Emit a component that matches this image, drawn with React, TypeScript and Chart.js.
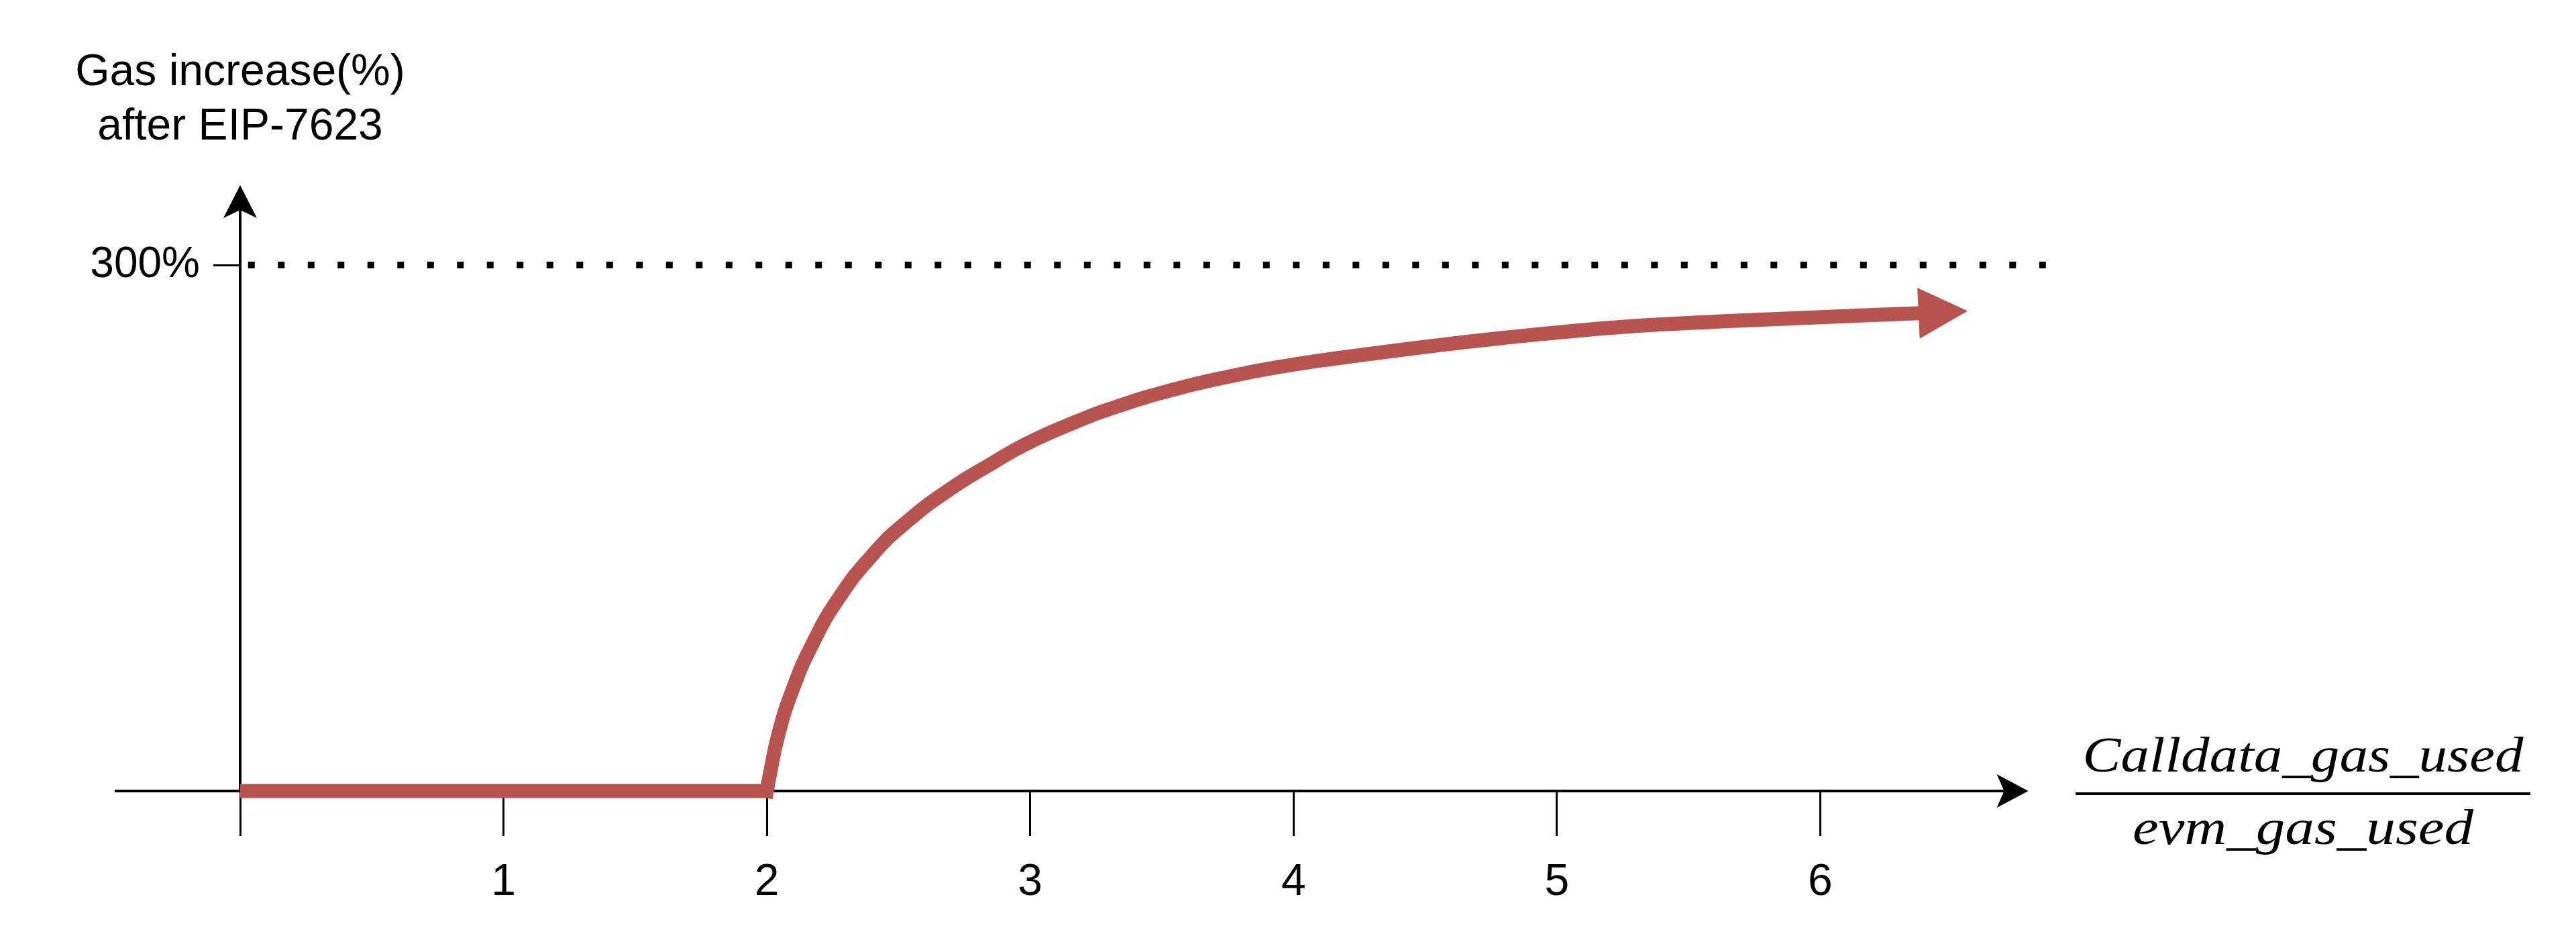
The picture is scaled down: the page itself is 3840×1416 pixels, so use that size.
import React, { useEffect, useRef } from 'react';
import { Chart, registerables } from 'chart.js';

Chart.register(...registerables);

// ---- data ----
const X_TICKS = [0, 1, 2, 3, 4, 5, 6];
const X_TICK_LABELS = ['', '1', '2', '3', '4', '5', '6'];
const Y_TICKS = [300];
const Y_TICK_LABELS = ['300%'];

const FLAT_X = [0, 2];
const FLAT_Y = [0, 0];

const CURVE_X = [2, 2.0086, 2.0447, 2.099, 2.173, 2.27, 2.402, 2.535, 2.705, 2.845, 2.985, 3.164, 3.334, 3.546, 3.758, 3.971, 4.174, 4.565, 4.82, 5.074, 5.321, 5.7, 6.032, 6.373];
const CURVE_Y = [0, 7.3, 32.8, 58.3, 83.8, 109.3, 134.8, 154, 173.1, 186, 198, 210, 219.5, 229, 236.5, 242.5, 247, 254.5, 258.8, 262.5, 265.5, 268.3, 270.4, 272.5];

const ARROW_TIP_X = 6.56;
const ARROW_TIP_Y = 273.8;

const REF_LINE_X = [0.03, 6.92];
const REF_LINE_Y = [300, 300];

const X_MIN = 0;
const X_MAX = 7;
const Y_MIN = 0;
const Y_MAX = 300;
const X_AXIS_EXTENT = [-0.476, 6.79];
const Y_AXIS_TOP = 345.5;

const Y_TITLE = ['Gas increase(%)', 'after EIP-7623'];
const X_TITLE_NUM = 'Calldata_gas_used';
const X_TITLE_DEN = 'evm_gas_used';

const RED = '#b85450';
const SANS = '"Liberation Sans", Arial, Helvetica, sans-serif';
const SERIF = '"Liberation Serif", "Times New Roman", serif';

const overlay = {
  id: 'overlay',
  beforeDatasetsDraw(chart: any) {
    const { ctx, scales } = chart;
    const x = scales.x;
    const y = scales.y;
    const y0 = y.getPixelForValue(0);
    const x0 = x.getPixelForValue(0);
    ctx.save();
    ctx.strokeStyle = '#000';
    ctx.fillStyle = '#000';
    ctx.lineCap = 'butt';
    // x axis
    const xl = x.getPixelForValue(X_AXIS_EXTENT[0]);
    const xr = x.getPixelForValue(X_AXIS_EXTENT[1]);
    ctx.lineWidth = 4;
    ctx.beginPath();
    ctx.moveTo(xl, y0);
    ctx.lineTo(xr - 30, y0);
    ctx.stroke();
    ctx.beginPath();
    ctx.moveTo(xr, y0);
    ctx.lineTo(xr - 47, y0 - 25);
    ctx.lineTo(xr - 36, y0);
    ctx.lineTo(xr - 47, y0 + 25);
    ctx.closePath();
    ctx.fill();
    // y axis
    const yt = y.getPixelForValue(Y_AXIS_TOP);
    ctx.lineWidth = 4;
    ctx.beginPath();
    ctx.moveTo(x0, y0);
    ctx.lineTo(x0, yt + 30);
    ctx.stroke();
    ctx.beginPath();
    ctx.moveTo(x0, yt);
    ctx.lineTo(x0 - 25, yt + 49);
    ctx.lineTo(x0, yt + 37);
    ctx.lineTo(x0 + 25, yt + 49);
    ctx.closePath();
    ctx.fill();
    ctx.restore();
  },
  afterDatasetsDraw(chart: any) {
    const { ctx, scales } = chart;
    const x = scales.x;
    const y = scales.y;
    const n = CURVE_X.length - 1;
    const bx = x.getPixelForValue(CURVE_X[n]);
    const by = y.getPixelForValue(CURVE_Y[n]);
    const tx = x.getPixelForValue(ARROW_TIP_X);
    const ty = y.getPixelForValue(ARROW_TIP_Y);
    const dx = tx - bx;
    const dy = ty - by;
    const len = Math.hypot(dx, dy);
    const px = -dy / len;
    const py = dx / len;
    const hw = 38;
    ctx.save();
    ctx.fillStyle = RED;
    ctx.beginPath();
    ctx.moveTo(tx, ty);
    ctx.lineTo(bx + px * hw, by + py * hw);
    ctx.lineTo(bx - px * hw, by - py * hw);
    ctx.closePath();
    ctx.fill();
    ctx.restore();
  },
  afterDraw(chart: any) {
    const { ctx, scales } = chart;
    const x = scales.x;
    const y = scales.y;
    const y0 = y.getPixelForValue(0);
    const x0 = x.getPixelForValue(0);
    const yt = y.getPixelForValue(Y_AXIS_TOP);
    ctx.save();
    ctx.fillStyle = '#000';
    ctx.textAlign = 'center';
    ctx.textBaseline = 'alphabetic';
    ctx.font = `66px ${SANS}`;
    ctx.fillText(Y_TITLE[0], x0, yt - 149);
    ctx.fillText(Y_TITLE[1], x0, yt - 68);

    // fraction label for x axis
    const cx = 3433;
    ctx.font = `italic 74px ${SERIF}`;
    const drawFit = (t: string, w: number, base: number) => {
      const m = ctx.measureText(t).width;
      ctx.save();
      ctx.translate(cx, base);
      ctx.scale(w / m, 1);
      ctx.fillText(t, 0, 0);
      ctx.restore();
    };
    drawFit(X_TITLE_NUM, 657, y0 - 29);
    drawFit(X_TITLE_DEN, 508, y0 + 79);
    ctx.strokeStyle = '#000';
    ctx.lineWidth = 4;
    ctx.beginPath();
    ctx.moveTo(cx - 339, y0 + 4);
    ctx.lineTo(cx + 339, y0 + 4);
    ctx.stroke();
    ctx.restore();
  },
};

export default function App() {
  const ref = useRef<HTMLCanvasElement>(null);
  useEffect(() => {
    document.body.style.margin = '0';
    const canvas = ref.current!;
    const chart = new Chart(canvas, {
      type: 'line',
      data: {
        datasets: [
          {
            data: REF_LINE_X.map((v, i) => ({ x: v, y: REF_LINE_Y[i] })),
            borderColor: '#000',
            borderWidth: 10,
            borderDash: [10, 34.5],
            borderCapStyle: 'butt',
            pointRadius: 0,
            fill: false,
            clip: false,
          } as any,
          {
            data: FLAT_X.map((v, i) => ({ x: v, y: FLAT_Y[i] })),
            borderColor: RED,
            borderWidth: 21,
            borderCapStyle: 'butt',
            borderJoinStyle: 'miter',
            pointRadius: 0,
            tension: 0,
            fill: false,
            clip: false,
          } as any,
          {
            data: CURVE_X.map((v, i) => ({ x: v, y: CURVE_Y[i] })),
            borderColor: RED,
            borderWidth: 21,
            borderCapStyle: 'square',
            borderJoinStyle: 'round',
            pointRadius: 0,
            tension: 0.5,
            fill: false,
            clip: false,
          } as any,
        ],
      },
      options: {
        responsive: false,
        devicePixelRatio: 1,
        animation: false,
        layout: { padding: { top: 395, right: 734, bottom: 0, left: 0 } },
        plugins: { legend: { display: false }, tooltip: { enabled: false } },
        scales: {
          x: {
            type: 'linear',
            min: X_MIN,
            max: X_MAX,
            afterBuildTicks: (s: any) => {
              s.ticks = X_TICKS.map((v) => ({ value: v }));
            },
            afterFit: (s: any) => {
              s.height = 237;
            },
            border: { display: false },
            grid: {
              drawOnChartArea: false,
              drawTicks: true,
              tickLength: 67,
              color: '#000',
              lineWidth: 3,
            },
            ticks: {
              autoSkip: false,
              maxRotation: 0,
              padding: 30,
              color: '#000',
              font: { family: SANS, size: 66 },
              callback: (v: any) => {
                const i = X_TICKS.indexOf(Number(v));
                return i >= 0 ? X_TICK_LABELS[i] : '';
              },
            },
          },
          y: {
            type: 'linear',
            min: Y_MIN,
            max: Y_MAX,
            afterBuildTicks: (s: any) => {
              s.ticks = Y_TICKS.map((v) => ({ value: v }));
            },
            afterFit: (s: any) => {
              s.width = 358;
            },
            border: { display: false },
            grid: {
              drawOnChartArea: false,
              drawTicks: true,
              tickLength: 40,
              color: '#000',
              lineWidth: 3,
            },
            ticks: {
              autoSkip: false,
              padding: 20,
              color: '#000',
              font: { family: SANS, size: 64 },
              callback: (v: any) => {
                const i = Y_TICKS.indexOf(Number(v));
                return i >= 0 ? Y_TICK_LABELS[i] : '';
              },
            },
          },
        },
      } as any,
      plugins: [overlay],
    });
    return () => chart.destroy();
  }, []);
  return (
    <canvas
      ref={ref}
      width={3840}
      height={1416}
      style={{ display: 'block', width: 3840, height: 1416 }}
    />
  );
}
